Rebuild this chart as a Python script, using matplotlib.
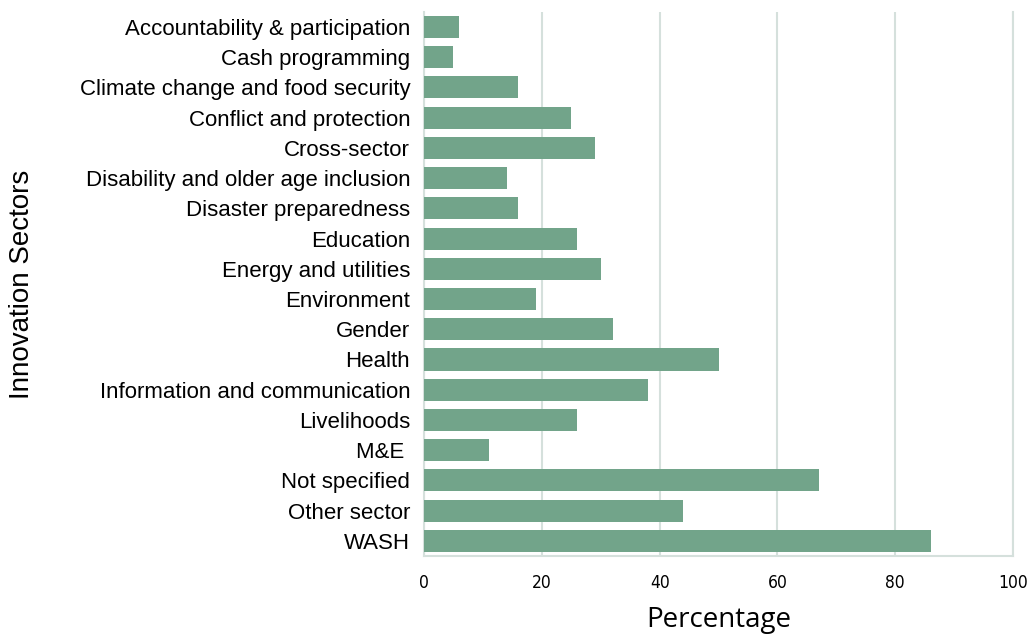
import matplotlib
matplotlib.use("Agg")
import matplotlib.pyplot as plt

sectors = [
    "Accountability & participation",
    "Cash programming",
    "Climate change and food security",
    "Conflict and protection",
    "Cross-sector",
    "Disability and older age inclusion",
    "Disaster preparedness",
    "Education",
    "Energy and utilities",
    "Environment",
    "Gender",
    "Health",
    "Information and communication",
    "Livelihoods",
    "M&E ",
    "Not specified",
    "Other sector",
    "WASH",
]
percentages = [6, 5, 16, 25, 29, 14, 16, 26, 30, 19, 32, 50, 38, 26, 11, 67, 44, 86]
x_ticks = [0, 20, 40, 60, 80, 100]

bar_color = "#72a48a"
line_color = "#d5e0dc"

fig = plt.figure(figsize=(10.27, 6.35), dpi=100)
ax = fig.add_axes([0.4129, 0.1244, 0.5735, 0.857])

ypos = list(range(len(sectors)))
ax.barh(ypos, percentages, height=0.73, color=bar_color, zorder=3)

ax.set_ylim(len(sectors) - 0.5, -0.5)
ax.set_xlim(0, 100)
ax.set_xticks(x_ticks)
ax.set_xticklabels([str(t) for t in x_ticks], family="DejaVu Sans",
                   fontstretch="condensed", fontsize=12.5)
ax.set_yticks(ypos)
ax.set_yticklabels(sectors, family="Liberation Sans", fontsize=16)

ax.grid(axis="x", color=line_color, linewidth=1.5, zorder=0)
ax.tick_params(axis="both", length=0)
ax.tick_params(axis="x", pad=13)
ax.tick_params(axis="y", pad=10)

for side in ["left", "bottom", "right"]:
    ax.spines[side].set_color(line_color)
    ax.spines[side].set_linewidth(1.5)
ax.spines["top"].set_visible(False)

ax.set_xlabel("Percentage", family="Open Sans", fontsize=20, labelpad=10)
ax.set_ylabel("Innovation Sectors", family="Liberation Sans", fontsize=20)
ax.yaxis.set_label_coords(-0.66, 0.5)

fig.savefig("out.png", dpi=100)
